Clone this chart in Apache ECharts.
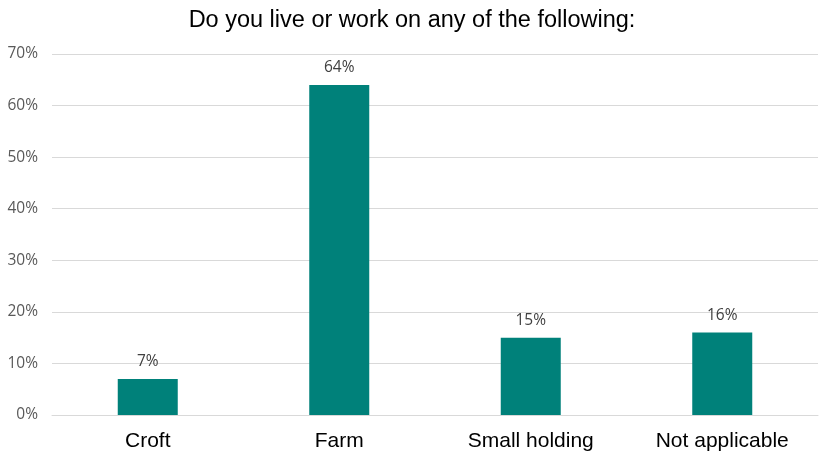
<!DOCTYPE html>
<html>
<head>
<meta charset="utf-8">
<script src="https://cdn.jsdelivr.net/npm/echarts@6/dist/echarts.min.js"></script>
<style>
html,body{margin:0;padding:0;background:#fff;}
#chart{width:824px;height:457px;}
</style>
</head>
<body>
<div id="chart"></div>
<script>
const title = "Do you live or work on any of the following:";
const categories = ["Croft", "Farm", "Small holding", "Not applicable"];
const values = [7, 64, 15, 16];
const yTicks = [0, 10, 20, 30, 40, 50, 60, 70];

const chart = echarts.init(document.getElementById('chart'));
chart.setOption({
  animation: false,
  title: {
    text: title,
    left: 'center',
    top: 4,
    textStyle: {fontFamily: 'Liberation Sans, Arial', fontSize: 23.5, fontWeight: 'normal', color: '#000'}
  },
  grid: {left: 52, right: 6, top: 54, bottom: 42, containLabel: false},
  xAxis: {
    type: 'category',
    data: categories,
    axisTick: {show: false},
    axisLine: {show: true, lineStyle: {color: '#d9d9d9', width: 1}},
    axisLabel: {fontFamily: 'Liberation Sans, Arial', fontSize: 21, color: '#000', margin: 16}
  },
  yAxis: {
    type: 'value',
    min: yTicks[0],
    max: yTicks[yTicks.length - 1],
    interval: 10,
    axisLine: {show: false},
    axisTick: {show: false},
    splitLine: {lineStyle: {color: '#d9d9d9', width: 1}},
    axisLabel: {fontFamily: 'Open Sans, Noto Sans', fontSize: 15.5, color: '#595959', margin: 14, formatter: v => v + '%'}
  },
  series: [{
    type: 'bar',
    data: values,
    barWidth: 60,
    itemStyle: {color: '#00817A'},
    label: {
      show: true,
      position: 'top',
      distance: 9,
      formatter: p => p.value + '%',
      fontFamily: 'Open Sans, Noto Sans',
      fontSize: 15.5,
      color: '#404040'
    }
  }]
});
</script>
</body>
</html>
